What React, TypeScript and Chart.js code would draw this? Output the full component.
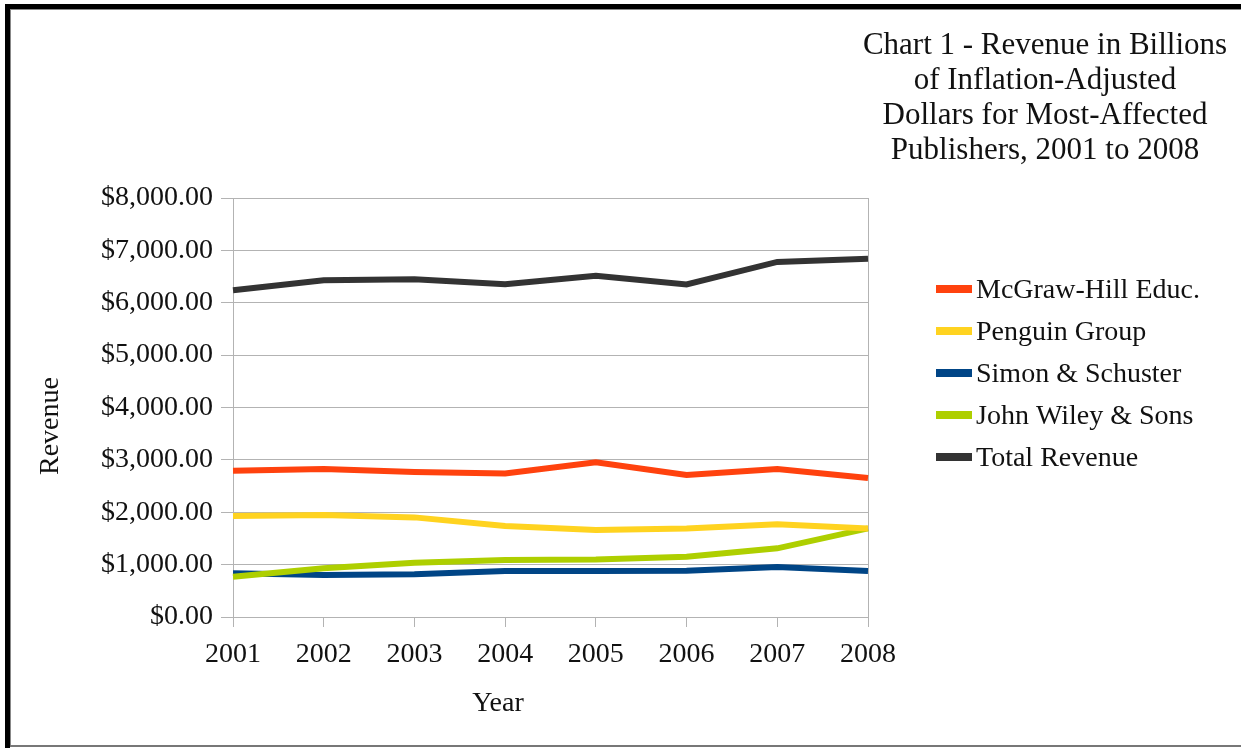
import React, { useEffect, useRef } from "react";
import { Chart, registerables } from "chart.js";

Chart.register(...registerables);

const YEARS = ["2001", "2002", "2003", "2004", "2005", "2006", "2007", "2008"];
const MCGRAW = [2790, 2825, 2767, 2742, 2955, 2710, 2825, 2653];
const PENGUIN = [1927, 1947, 1902, 1737, 1660, 1692, 1769, 1692];
const SIMON = [834, 802, 815, 878, 878, 884, 954, 878];
const WILEY = [770, 929, 1036, 1088, 1100, 1151, 1311, 1692];
const TOTAL = [6240, 6430, 6450, 6355, 6513, 6350, 6780, 6838];

const SERIES_NAMES = ["McGraw-Hill Educ.", "Penguin Group", "Simon & Schuster", "John Wiley & Sons", "Total Revenue"];
const SERIES_COLORS = ["#ff420e", "#ffd320", "#004586", "#aecf00", "#333333"];
const TITLE_LINES = [
  "Chart 1 - Revenue in Billions",
  "of Inflation-Adjusted",
  "Dollars for Most-Affected",
  "Publishers, 2001 to 2008",
];
const X_TITLE = "Year";
const Y_TITLE = "Revenue";

const FONT = "'Liberation Serif', 'Times New Roman', serif";
const FS = 28;
const TFS = 31;
const GRID = "#b3b3b3";

const decorPlugin = {
  id: "decor",
  afterDraw(chart: any) {
    const ctx = chart.ctx;
    const a = chart.chartArea;
    ctx.save();
    ctx.fillStyle = "#111";
    ctx.textAlign = "center";
    ctx.textBaseline = "middle";
    ctx.font = `${TFS}px ${FONT}`;
    TITLE_LINES.forEach((l, i) => ctx.fillText(l, 1045, 46 + i * 35));
    ctx.font = `${FS}px ${FONT}`;
    ctx.fillText(X_TITLE, a.left + 265, 704);
    ctx.save();
    ctx.translate(51, 426);
    ctx.rotate(-Math.PI / 2);
    ctx.fillText(Y_TITLE, 0, 0);
    ctx.restore();
    // legend
    ctx.textAlign = "left";
    chart.data.datasets.forEach((ds: any, i: number) => {
      const yc = 289 + i * 42;
      ctx.fillStyle = ds.borderColor;
      ctx.fillRect(a.right + 68, yc - 4, 36, 8);
      ctx.fillStyle = "#111";
      ctx.fillText(ds.label, a.right + 108, yc + 2);
    });
    ctx.restore();
  },
};

export default function App() {
  const ref = useRef<HTMLCanvasElement>(null);
  useEffect(() => {
    document.body.style.margin = "0";
    const series = [MCGRAW, PENGUIN, SIMON, WILEY, TOTAL];
    const orders = [1, 2, 4, 3, 5];
    const chart = new Chart(ref.current!, {
      type: "line",
      data: {
        labels: YEARS,
        datasets: series.map((d, i) => ({
          label: SERIES_NAMES[i],
          data: d,
          borderColor: SERIES_COLORS[i],
          backgroundColor: SERIES_COLORS[i],
          borderWidth: 6,
          pointRadius: 0,
          tension: 0,
          fill: false,
          order: orders[i],
        })),
      },
      options: {
        animation: false,
        responsive: false,
        layout: { padding: { top: 198, right: 373, bottom: 0, left: 0 } },
        plugins: { legend: { display: false }, title: { display: false }, tooltip: { enabled: false } },
        scales: {
          x: {
            offset: false,
            afterFit: (s: any) => {
              s.height = 131;
            },
            grid: {
              drawOnChartArea: true,
              color: (c: any) => (c.index === YEARS.length - 1 ? GRID : "rgba(0,0,0,0)"),
              tickColor: GRID,
              tickLength: 10,
              lineWidth: 1,
            },
            border: { display: true, color: GRID },
            ticks: {
              color: "#111",
              font: { family: FONT, size: FS },
              padding: 11,
              maxRotation: 0,
              autoSkip: false,
            },
          },
          y: {
            min: 0,
            max: 8000,
            afterFit: (s: any) => {
              s.width = 233;
            },
            grid: { color: GRID, tickColor: GRID, tickLength: 12, lineWidth: 1 },
            border: { display: true, color: GRID },
            ticks: {
              stepSize: 1000,
              color: "#111",
              font: { family: FONT, size: FS },
              padding: 8,
              callback: (v: any) =>
                "$" + Number(v).toLocaleString("en-US", { minimumFractionDigits: 2, maximumFractionDigits: 2 }),
            },
          },
        },
      },
      plugins: [decorPlugin],
    });
    return () => chart.destroy();
  }, []);

  const bar = (s: React.CSSProperties) => <div style={{ position: "absolute", ...s }} />;
  return (
    <div style={{ position: "relative", width: 1241, height: 748, background: "#fff", overflow: "hidden" }}>
      <canvas ref={ref} width={1241} height={748} style={{ display: "block", position: "absolute", left: 0, top: 0 }} />
      {bar({ left: 5, top: 4, width: 1236, height: 5, background: "#000" })}
      {bar({ left: 10, top: 9, width: 1231, height: 1, background: "#888" })}
      {bar({ left: 5, top: 4, width: 5, height: 744, background: "#000" })}
      {bar({ left: 10, top: 9, width: 1, height: 737, background: "#888" })}
      {bar({ left: 10, top: 745, width: 1231, height: 2, background: "#777" })}
    </div>
  );
}
